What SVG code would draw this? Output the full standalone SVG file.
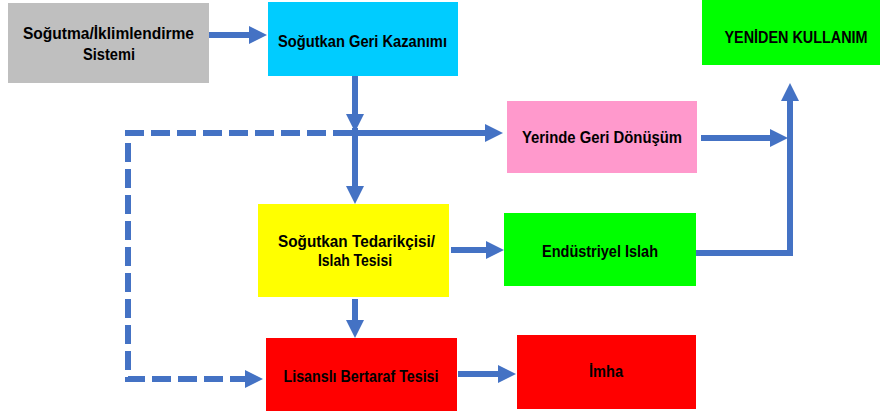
<svg xmlns="http://www.w3.org/2000/svg" width="880" height="414" viewBox="0 0 880 414">
<style>
.box{stroke:none}
.t{font-family:"Liberation Sans",Arial,sans-serif;font-weight:bold;font-size:16px;fill:#000;text-anchor:middle}
.c{fill:none;stroke:#4472C4;stroke-width:6;stroke-linejoin:miter}
.d{stroke-dasharray:19 7}
</style>
<defs>
<marker id="ah" viewBox="0 -9 18 18" refX="1" refY="0" markerWidth="18" markerHeight="18" markerUnits="userSpaceOnUse" orient="auto">
<path d="M0,-9 L18,0 L0,9 z" fill="#4472C4"/>
</marker>
</defs>
<rect width="880" height="414" fill="#fff"/>
<g id="connectors">
<path class="c" d="M209,35 H250" marker-end="url(#ah)"/>
<path class="c" d="M355,76 V115" marker-end="url(#ah)"/>
<path class="c" d="M355,128 V187" marker-end="url(#ah)"/>
<path class="c" d="M355,133 H486" marker-end="url(#ah)"/>
<path class="c d" d="M352,133 H128 V379 H246" marker-end="url(#ah)"/>
<path class="c" d="M701,138 H771" marker-end="url(#ah)"/>
<path class="c" d="M696,253 H790 V100" marker-end="url(#ah)"/>
<path class="c" d="M451,250 H487" marker-end="url(#ah)"/>
<path class="c" d="M355,299 V321" marker-end="url(#ah)"/>
<path class="c" d="M458,374 H499" marker-end="url(#ah)"/>
</g>
<g id="n-sistem">
<rect class="box" x="8" y="3" width="201" height="80" fill="#BFBFBF"/>
<text class="t" x="108.5" y="38.5" textLength="171" lengthAdjust="spacingAndGlyphs">Soğutma/İklimlendirme</text>
<text class="t" x="109" y="60" textLength="52" lengthAdjust="spacingAndGlyphs">Sistemi</text>
</g>
<g id="n-kazanim">
<rect class="box" x="268" y="2" width="190" height="74" fill="#00CCFF"/>
<text class="t" x="362.5" y="47" textLength="169" lengthAdjust="spacingAndGlyphs">Soğutkan Geri Kazanımı</text>
</g>
<g id="n-yeniden">
<rect class="box" x="702" y="0" width="178" height="65" fill="#00FF00"/>
<text class="t" x="796" y="43" textLength="143" lengthAdjust="spacingAndGlyphs">YENİDEN KULLANIM</text>
</g>
<g id="n-yerinde">
<rect class="box" x="507" y="101" width="190" height="72" fill="#FF99CC"/>
<text class="t" x="602" y="143" textLength="160" lengthAdjust="spacingAndGlyphs">Yerinde Geri Dönüşüm</text>
</g>
<g id="n-tedarikci">
<rect class="box" x="258" y="204" width="191" height="93" fill="#FFFF00"/>
<text class="t" x="356.5" y="247" textLength="157" lengthAdjust="spacingAndGlyphs">Soğutkan Tedarikçisi/</text>
<text class="t" x="355" y="266" textLength="74" lengthAdjust="spacingAndGlyphs">Islah Tesisi</text>
</g>
<g id="n-endustriyel">
<rect class="box" x="504" y="213" width="192" height="73" fill="#00FF00"/>
<text class="t" x="600" y="257" textLength="116" lengthAdjust="spacingAndGlyphs">Endüstriyel Islah</text>
</g>
<g id="n-bertaraf">
<rect class="box" x="266" y="338" width="191" height="73" fill="#FF0000"/>
<text class="t" x="361" y="382" textLength="155" lengthAdjust="spacingAndGlyphs">Lisanslı Bertaraf Tesisi</text>
</g>
<g id="n-imha">
<rect class="box" x="517" y="335" width="179" height="74" fill="#FF0000"/>
<text class="t" x="606" y="377" textLength="34" lengthAdjust="spacingAndGlyphs">İmha</text>
</g>
</svg>
